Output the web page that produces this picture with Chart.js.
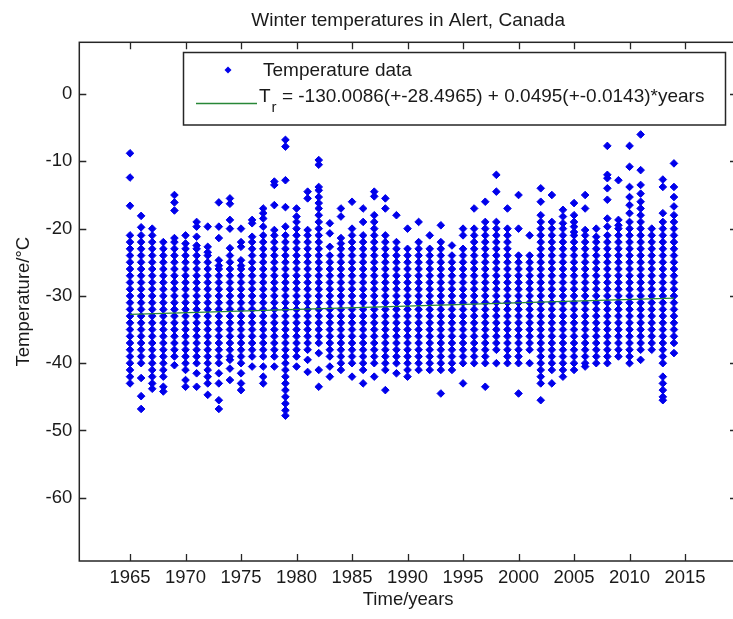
<!DOCTYPE html>
<html>
<head>
<meta charset="utf-8">
<title>Winter temperatures in Alert, Canada</title>
<script src="https://cdn.jsdelivr.net/npm/chart.js@4.4.1/dist/chart.umd.min.js"></script>
<style>
  html, body { margin: 0; padding: 0; background: #fff; overflow: hidden; }
  canvas { display: block; }
</style>
</head>
<body>
<canvas id="alertChart" width="737" height="619"></canvas>
<script>
// winter (year) columns
const years = [1965, 1966, 1967, 1968, 1969, 1970, 1971, 1972, 1973, 1974,
  1975, 1976, 1977, 1978, 1979, 1980, 1981, 1982, 1983, 1984,
  1985, 1986, 1987, 1988, 1989, 1990, 1991, 1992, 1993, 1994,
  1995, 1996, 1997, 1998, 1999, 2000, 2001, 2002, 2003, 2004,
  2005, 2006, 2007, 2008, 2009, 2010, 2011, 2012, 2013, 2014];

// temperatures (degC)
const temps = [
  [-8.8,-12.4,-16.6,-21,-22,-23,-24,-25,-26,-27,-28,-29,-30,-31,-32,-33,-34,-35,-36,-37,-38,-39,-40,-41,-42,-43],
  [-18.1,-19.8,-21,-22,-23,-24,-25,-26,-27,-28,-29,-30,-31,-32,-33,-34,-35,-36,-37,-38,-39,-40,-42.2,-44.9,-46.8],
  [-20,-21,-22,-23,-24,-25,-26,-27,-28,-29,-30,-31,-32,-33,-34,-35,-36,-37,-38,-39,-40,-41,-42,-43,-43.8],
  [-22,-23,-24,-25,-26,-27,-28,-29,-30,-31,-32,-33,-34,-35,-36,-37,-38,-39,-40,-41,-42,-43.5,-44.2],
  [-15,-16.1,-17.3,-21.4,-22,-23,-24,-25,-26,-27,-28,-29,-30,-31,-32,-33,-34,-35,-36,-37,-38,-39,-40.3],
  [-21,-22.2,-23,-24,-25,-26,-27,-28,-29,-30,-31,-32,-33,-34,-35,-36,-37,-38,-39,-40,-41,-42.5,-43.5],
  [-19,-19.7,-21.2,-22.5,-23,-24,-25,-26,-27,-28,-29,-30,-31,-32,-33,-34,-35,-36,-37,-38,-39,-40,-41.5,-43.5],
  [-19.7,-22.7,-23.5,-24,-25,-26,-27,-28,-29,-30,-31,-32,-33,-34,-35,-36,-37,-38,-39,-40,-41,-42,-43,-44.7],
  [-16.1,-19.7,-21.4,-24.7,-25.5,-26,-27,-28,-29,-30,-31,-32,-33,-34,-35,-36,-37,-38,-39,-40,-41.5,-43,-45.5,-46.8],
  [-15.5,-16.3,-18.7,-20,-22.9,-24,-25,-26,-27,-28,-29,-30,-31,-32,-33,-34,-35,-36,-37,-38,-39,-39.5,-40.8,-42.5],
  [-20,-22,-22.7,-24.7,-25.5,-26,-27,-28,-29,-30,-31,-32,-33,-34,-35,-36,-37,-38,-39,-40,-41.5,-43,-44],
  [-18.7,-19.2,-21.2,-22,-23,-24,-25,-26,-27,-28,-29,-30,-31,-32,-33,-34,-35,-36,-37,-38,-39,-40.5],
  [-17,-17.7,-18.5,-19.7,-21,-22,-23,-24,-25,-26,-27,-28,-29,-30,-31,-32,-33,-34,-35,-36,-37,-38,-39,-40.5,-42,-43],
  [-13,-13.5,-16.5,-20.2,-21,-22,-23,-24,-25,-26,-27,-28,-29,-30,-31,-32,-33,-34,-35,-36,-37,-38,-39,-40.5],
  [-6.8,-7.8,-12.8,-16.8,-19.7,-21,-22,-23,-24,-25,-26,-27,-28,-29,-30,-31,-32,-33,-34,-35,-36,-37,-38,-39,-40,-41,-42,-43,-44,-45,-46,-47,-47.8],
  [-17,-18.2,-19,-20,-21,-22,-23,-24,-25,-26,-27,-28,-29,-30,-31,-32,-33,-34,-35,-36,-37,-38,-39,-40.5],
  [-14.5,-15.5,-20.2,-21,-22,-23,-24,-25,-26,-27,-28,-29,-30,-31,-32,-33,-34,-35,-36,-37,-38,-39.5,-41.3],
  [-9.8,-10.5,-13.8,-14.3,-15.3,-16.2,-17,-18,-19,-20,-21,-22,-23,-24,-25,-26,-27,-28,-29,-30,-31,-32,-33,-34,-35,-36,-37,-38.5,-41,-43.5],
  [-19.2,-20.7,-22.7,-24,-25,-26,-27,-28,-29,-30,-31,-32,-33,-34,-35,-36,-37,-38,-39,-40.5,-42],
  [-17,-18.2,-21.4,-22.2,-23,-24,-25,-26,-27,-28,-29,-30,-31,-32,-33,-34,-35,-36,-37,-38,-39,-40,-41],
  [-16,-20,-21,-22,-23,-24,-25,-26,-27,-28,-29,-30,-31,-32,-33,-34,-35,-36,-37,-38,-39,-40,-42],
  [-17,-19,-21,-22,-23,-24,-25,-26,-27,-28,-29,-30,-31,-32,-33,-34,-35,-36,-37,-38,-39,-40,-41,-43],
  [-14.5,-15.2,-18,-19,-20,-21,-22,-23,-24,-25,-26,-27,-28,-29,-30,-31,-32,-33,-34,-35,-36,-37,-38,-39,-40,-42],
  [-15.5,-17,-21,-22,-23,-24,-25,-26,-27,-28,-29,-30,-31,-32,-33,-34,-35,-36,-37,-38,-39,-40,-41,-44],
  [-18,-22,-23,-24,-25,-26,-27,-28,-29,-30,-31,-32,-33,-34,-35,-36,-37,-38,-39,-40,-41.5],
  [-20,-23,-24,-25,-26,-27,-28,-29,-30,-31,-32,-33,-34,-35,-36,-37,-38,-39,-40,-41,-42],
  [-19,-22,-23,-24,-25,-26,-27,-28,-29,-30,-31,-32,-33,-34,-35,-36,-37,-38,-39,-40,-41],
  [-21,-23,-24,-25,-26,-27,-28,-29,-30,-31,-32,-33,-34,-35,-36,-37,-38,-39,-40,-41],
  [-19.5,-22,-23,-24,-25,-26,-27,-28,-29,-30,-31,-32,-33,-34,-35,-36,-37,-38,-39,-40,-41,-44.5],
  [-22.5,-24,-25,-26,-27,-28,-29,-30,-31,-32,-33,-34,-35,-36,-37,-38,-39,-40,-41],
  [-20,-21,-23,-24,-25,-26,-27,-28,-29,-30,-31,-32,-33,-34,-35,-36,-37,-38,-39,-40,-43],
  [-17,-20,-21,-22,-23,-24,-25,-26,-27,-28,-29,-30,-31,-32,-33,-34,-35,-36,-37,-38,-39,-40],
  [-16,-19,-20,-21,-22,-23,-24,-25,-26,-27,-28,-29,-30,-31,-32,-33,-34,-35,-36,-37,-38,-39,-40,-43.5],
  [-12,-14.5,-19,-20,-21,-22,-23,-24,-25,-26,-27,-28,-29,-30,-31,-32,-33,-34,-35,-36,-37,-38,-40],
  [-17,-20,-21,-22,-23,-24,-25,-26,-27,-28,-29,-30,-31,-32,-33,-34,-35,-36,-37,-38,-39,-40],
  [-15,-20,-24,-25,-26,-27,-28,-29,-30,-31,-32,-33,-34,-35,-36,-37,-38,-39,-40,-44.5],
  [-21,-24,-25,-26,-27,-28,-29,-30,-31,-32,-33,-34,-35,-36,-37,-38,-40],
  [-14,-16,-18,-19,-20,-21,-22,-23,-24,-25,-26,-27,-28,-29,-30,-31,-32,-33,-34,-35,-36,-37,-38,-39,-40,-41,-42,-43,-45.5],
  [-15,-19,-20,-21,-22,-23,-24,-25,-26,-27,-28,-29,-30,-31,-32,-33,-34,-35,-36,-37,-38,-39,-40,-41,-43],
  [-17.2,-18.2,-19.2,-20,-21,-22,-23,-24,-25,-26,-27,-28,-29,-30,-31,-32,-33,-34,-35,-36,-37,-38,-39,-40,-41,-42],
  [-16.2,-18,-19,-19.7,-20.5,-21,-22,-23,-24,-25,-26,-27,-28,-29,-30,-31,-32,-33,-34,-35,-36,-37,-38,-39,-40,-41],
  [-15,-17,-20.2,-21,-22,-23,-24,-25,-26,-27,-28,-29,-30,-31,-32,-33,-34,-35,-36,-37,-38,-39,-40,-40.5],
  [-20,-21.2,-22,-23,-24,-25,-26,-27,-28,-29,-30,-31,-32,-33,-34,-35,-36,-37,-38,-39,-40],
  [-7.7,-12,-12.5,-14,-15.7,-18.5,-19.7,-21,-22,-23,-24,-25,-26,-27,-28,-29,-30,-31,-32,-33,-34,-35,-36,-37,-38,-39,-40],
  [-12.8,-18.7,-19.5,-20,-21,-22,-23,-24,-25,-26,-27,-28,-29,-30,-31,-32,-33,-34,-35,-36,-37,-38,-39],
  [-7.7,-10.8,-13.8,-15.3,-16.5,-17.7,-19,-20,-21,-22,-23,-24,-25,-26,-27,-28,-29,-30,-31,-32,-33,-34,-35,-36,-37,-38,-39,-40],
  [-6,-11.3,-13.5,-14.8,-16,-17,-18,-19,-20,-21,-22,-23,-24,-25,-26,-27,-28,-29,-30,-31,-32,-33,-34,-35,-36,-37,-38,-39.5],
  [-20,-21,-22,-23,-24,-25,-26,-27,-28,-29,-30,-31,-32,-33,-34,-35,-36,-37,-38],
  [-12.7,-13.8,-17.7,-19,-20,-21,-22,-23,-24,-25,-26,-27,-28,-29,-30,-31,-32,-33,-34,-35,-36,-37,-38,-39,-40,-42,-43,-44,-45,-45.5],
  [-10.3,-13.8,-15.3,-16.7,-18,-19,-20,-21,-22,-23,-24,-25,-26,-27,-28,-29,-30,-31,-32,-33,-34,-35,-36,-37,-38.5]
];

// fitted trend line end points (Tr = -130.0086 + 0.0495*years)
const trendYears = [1965, 2014];
const trendTemps = [-32.74, -30.32];

const xTicks = [1965, 1970, 1975, 1980, 1985, 1990, 1995, 2000, 2005, 2010, 2015];
const yTicks = [0, -10, -20, -30, -40, -50, -60];

const FONT = '"Liberation Sans", Arial, sans-serif';
const TXT = '#1a1a1a';
const BLUE = 'rgb(0,0,235)';
const GREEN = 'rgb(40,135,55)';

Chart.defaults.font.family = FONT;

const points = [];
years.forEach((yr, i) => temps[i].forEach(t => points.push({ x: yr, y: t })));

// MATLAB-like box, inward ticks and legend
const matlabFrame = {
  id: 'matlabFrame',
  afterDatasetsDraw(chart) {
    const { ctx, chartArea: a, scales: { x, y } } = chart;
    ctx.save();
    ctx.strokeStyle = '#262626';
    ctx.lineWidth = 1.5;
    ctx.strokeRect(a.left, a.top, a.right - a.left, a.bottom - a.top);

    ctx.lineWidth = 1.3;
    ctx.beginPath();
    xTicks.forEach(v => {
      const px = Math.round(x.getPixelForValue(v)) + 0.5;
      ctx.moveTo(px, a.bottom); ctx.lineTo(px, a.bottom - 7);
      ctx.moveTo(px, a.top); ctx.lineTo(px, a.top + 7);
    });
    yTicks.forEach(v => {
      const py = Math.round(y.getPixelForValue(v)) + 0.5;
      ctx.moveTo(a.left, py); ctx.lineTo(a.left + 7, py);
      ctx.moveTo(a.right, py); ctx.lineTo(a.right - 7, py);
    });
    ctx.stroke();

    // legend box
    const lx = 183.5, ly = 52.5, lw = 542, lh = 72.5;
    ctx.fillStyle = '#fff';
    ctx.fillRect(lx, ly, lw, lh);
    ctx.lineWidth = 1.5;
    ctx.strokeStyle = '#262626';
    ctx.strokeRect(lx, ly, lw, lh);

    const ds = chart.data.datasets;
    // scatter entry
    ctx.fillStyle = ds[0].backgroundColor;
    ctx.beginPath();
    ctx.moveTo(228, 66.5); ctx.lineTo(231.5, 70); ctx.lineTo(228, 73.5); ctx.lineTo(224.5, 70);
    ctx.closePath();
    ctx.fill();
    ctx.fillStyle = TXT;
    ctx.font = '19px ' + FONT;
    ctx.textBaseline = 'middle';
    ctx.textAlign = 'left';
    ctx.fillText(ds[0].label, 263, 71);

    // trend entry
    ctx.strokeStyle = ds[1].borderColor;
    ctx.lineWidth = 1.5;
    ctx.beginPath();
    ctx.moveTo(196, 103.5); ctx.lineTo(257, 103.5);
    ctx.stroke();
    let tx = 259;
    ctx.fillText('T', tx, 96.5);
    tx += ctx.measureText('T').width;
    ctx.font = '15px ' + FONT;
    ctx.fillText('r', tx + 1, 108);
    tx += ctx.measureText('r').width + 1;
    ctx.font = '19px ' + FONT;
    ctx.fillText(ds[1].label, tx, 96.5);
    ctx.restore();
  }
};

new Chart(document.getElementById('alertChart'), {
  data: {
    datasets: [
      {
        type: 'scatter',
        label: 'Temperature data',
        data: points,
        order: 2,
        pointStyle: 'rectRot',
        pointRadius: 3.8,
        borderWidth: 1,
        backgroundColor: BLUE,
        borderColor: BLUE
      },
      {
        type: 'line',
        label: ' = -130.0086(+-28.4965) + 0.0495(+-0.0143)*years',
        data: trendYears.map((yr, i) => ({ x: yr, y: trendTemps[i] })),
        order: 1,
        borderColor: GREEN,
        borderWidth: 1.4,
        pointRadius: 0,
        fill: false
      }
    ]
  },
  options: {
    responsive: false,
    animation: false,
    devicePixelRatio: 1,
    layout: { padding: 0, autoPadding: false },
    plugins: {
      legend: { display: false },
      tooltip: { enabled: false },
      title: {
        display: true,
        text: 'Winter temperatures in Alert, Canada',
        fullSize: false,
        color: TXT,
        font: { size: 19, weight: 'normal' },
        padding: { top: 9, bottom: 10.5 }
      }
    },
    scales: {
      x: {
        type: 'linear',
        min: 1960.43,
        max: 2019.68,
        afterFit(s) { s.height = 58; },
        grid: { display: false, drawTicks: false },
        border: { display: false },
        ticks: {
          stepSize: 5,
          includeBounds: false,
          autoSkip: false,
          maxRotation: 0,
          padding: 6,
          color: TXT,
          font: { size: 18.5 },
          callback: v => String(v)
        },
        title: {
          display: true,
          text: 'Time/years',
          color: TXT,
          font: { size: 18.5 },
          padding: { top: 0, bottom: 8 }
        }
      },
      y: {
        type: 'linear',
        min: -69.4,
        max: 7.7,
        afterFit(s) { s.width = 79.3; },
        grid: { display: false, drawTicks: false },
        border: { display: false },
        ticks: {
          stepSize: 10,
          includeBounds: false,
          padding: 7,
          color: TXT,
          font: { size: 18.5 }
        },
        title: {
          display: true,
          text: 'Temperature/°C',
          color: TXT,
          font: { size: 18.5 },
          padding: { top: 13, bottom: 0 }
        }
      }
    }
  },
  plugins: [matlabFrame]
});
</script>
</body>
</html>
